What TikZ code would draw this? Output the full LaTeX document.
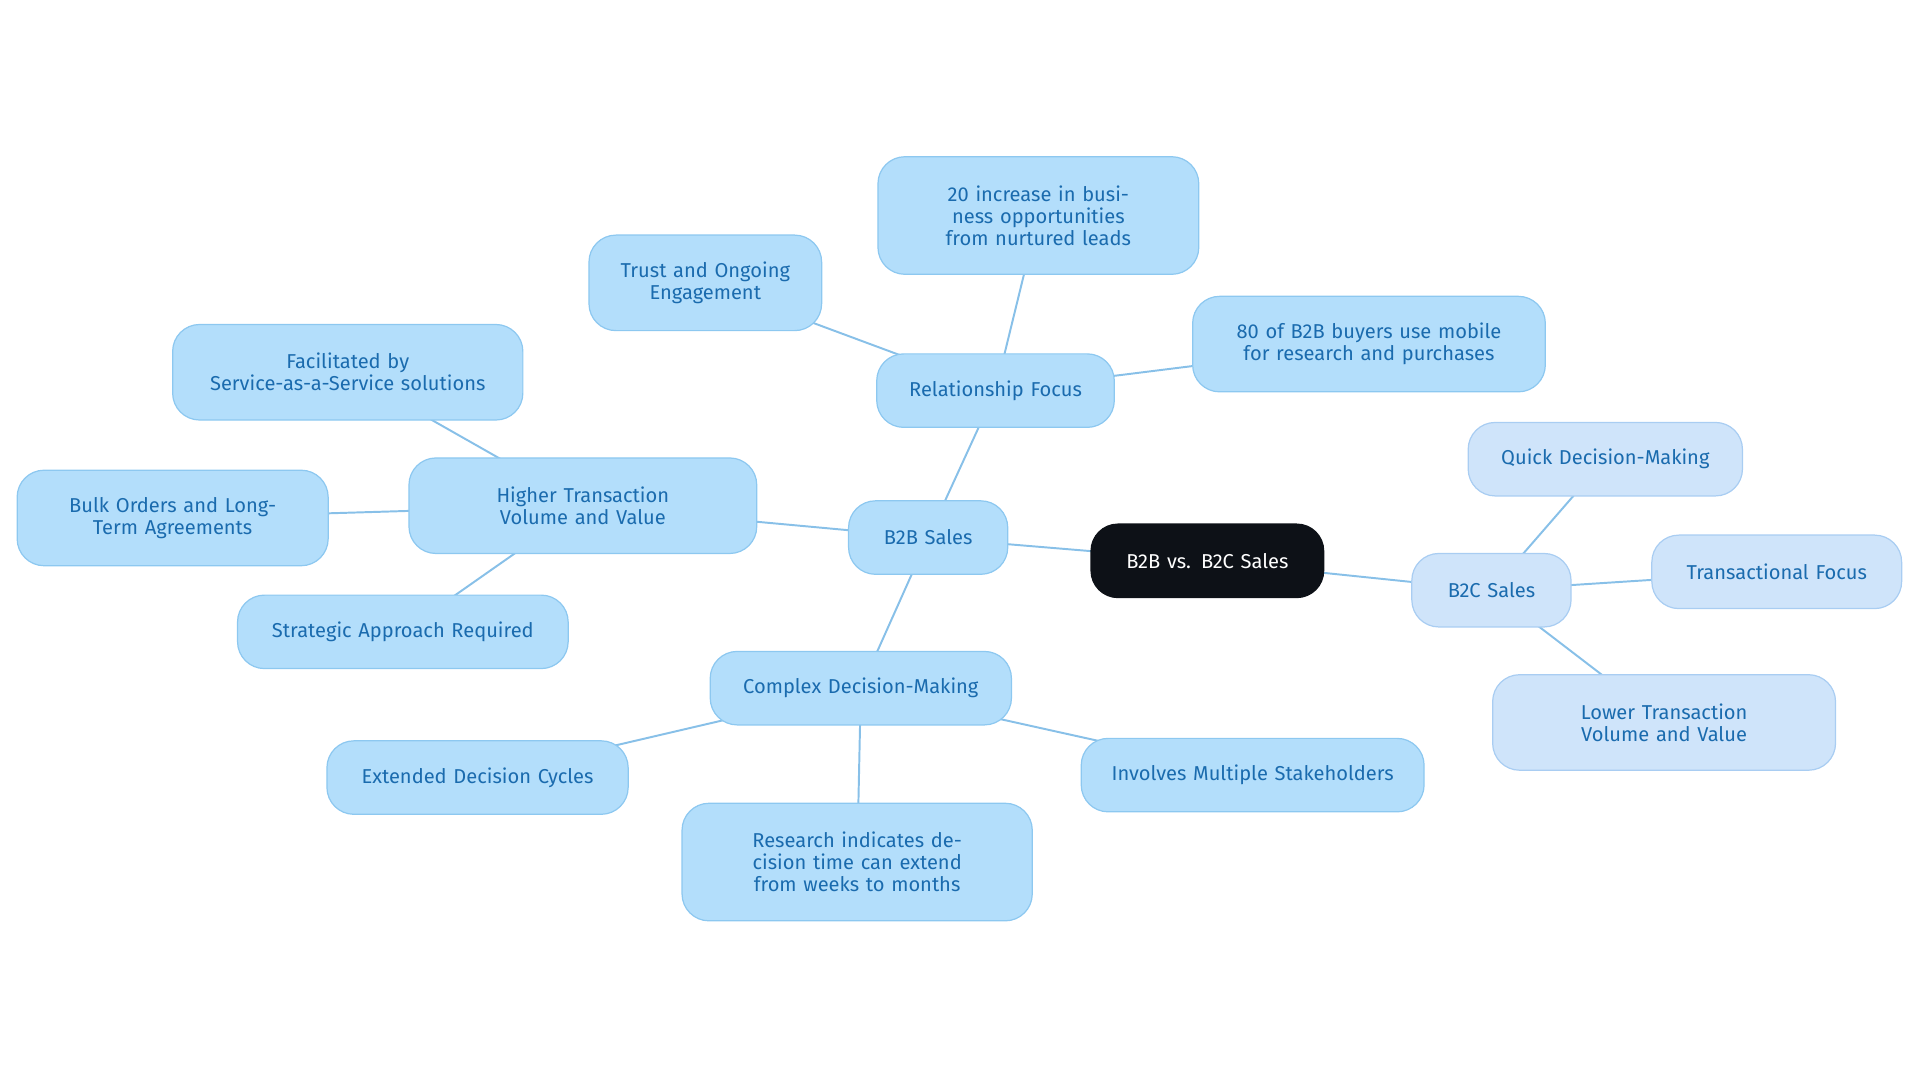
\documentclass[tikz,border=0pt]{standalone}
\usepackage{fontspec}
\setmainfont{Fira Sans}
\usetikzlibrary{backgrounds}
\definecolor{bfill}{HTML}{B3DEFB}
\definecolor{bdraw}{HTML}{8DC8F0}
\definecolor{cfill}{HTML}{CFE4FA}
\definecolor{cdraw}{HTML}{A9CDF2}
\definecolor{btext}{HTML}{1A6BAE}
\definecolor{edgec}{HTML}{88C0E8}
\definecolor{rootc}{HTML}{0D1117}
\tikzset{
 box/.style={draw=bdraw,fill=bfill,text=btext,rounded corners=11pt,align=center,font=\fontsize{8.2}{9}\selectfont,line width=0.5pt,inner sep=2pt},
 cbox/.style={box,draw=cdraw,fill=cfill},
 rootbox/.style={box,draw=rootc,fill=rootc,text=white},
 edge/.style={draw=edgec,line width=0.8pt}
}
\newcommand{\bx}[6]{\node[#1,minimum width=#4*0.5pt,minimum height=#5*0.5pt,text width=#4*0.5pt-20pt] (#2) at #3 {#6};}
\begin{document}
\begin{tikzpicture}[x=0.5pt,y=-0.5pt]
\useasboundingbox (0,0) rectangle (1568,884);
\bx{rootbox}{root}{(986,458)}{190}{60}{B2B vs. B2C Sales}
\bx{box}{b2b}{(758,439)}{130}{60}{B2B Sales}
\bx{cbox}{b2c}{(1218,482)}{130}{60}{B2C Sales}
\bx{box}{rel}{(813,319)}{194}{60}{Relationship Focus}
\bx{box}{htv}{(476,413)}{284}{78}{Higher Transaction Volume and Value}
\bx{box}{cdm}{(703,562)}{246}{60}{Complex Decision-Making}
\bx{box}{n20}{(848,176)}{262}{96}{20 increase in business opportunities from nurtured leads}
\bx{box}{trust}{(576,231)}{190}{78}{Trust and Ongoing Engagement}
\bx{box}{mob}{(1118,281)}{288}{78}{80 of B2B buyers use mobile for research and purchases}
\bx{box}{fac}{(284,304)}{286}{78}{Facilitated by\\Service-as-a-Service solutions}
\bx{box}{bulk}{(141,423)}{254}{78}{Bulk Orders and Long-Term Agreements}
\bx{box}{strat}{(329,516)}{270}{60}{Strategic Approach Required}
\bx{box}{ext}{(390,635)}{246}{60}{Extended Decision Cycles}
\bx{box}{res}{(700,704)}{286}{96}{Research indicates decision time can extend from weeks to months}
\bx{box}{inv}{(1023,633)}{280}{60}{Involves Multiple Stakeholders}
\bx{cbox}{quick}{(1311,375)}{224}{60}{Quick Decision-Making}
\bx{cbox}{trans}{(1451,467)}{204}{60}{Transactional Focus}
\bx{cbox}{lower}{(1359,590)}{280}{78}{Lower Transaction Volume and Value}
\begin{pgfonlayer}{background}
\foreach \a/\b in {root/b2b,root/b2c,b2b/rel,b2b/htv,b2b/cdm,rel/n20,rel/trust,rel/mob,htv/fac,htv/bulk,htv/strat,cdm/ext,cdm/res,cdm/inv,b2c/quick,b2c/trans,b2c/lower}
  \draw[edge] (\a.center) -- (\b.center);
\end{pgfonlayer}
\end{tikzpicture}
\end{document}
